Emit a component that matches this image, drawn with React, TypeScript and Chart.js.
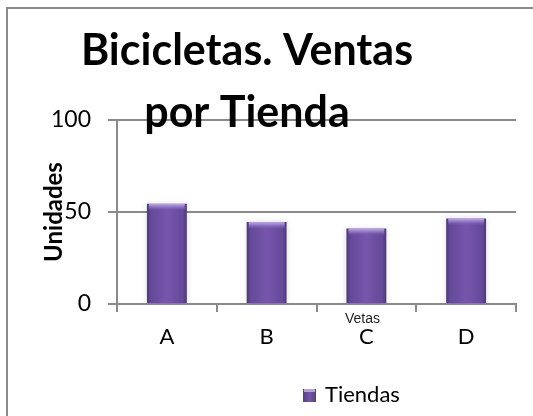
import React, { useEffect, useRef } from "react";
import { Chart, registerables } from "chart.js";

Chart.register(...registerables);

const categories = ["A", "B", "C", "D"];
const seriesLabel = "Tiendas";
const ventas = [54.5, 44.5, 41, 46.5];
const yMin = 0;
const yMax = 100;
const yStep = 50;
const titleLines = ["Bicicletas. Ventas", "por Tienda"];
const yTitle = "Unidades";
const xNote = "Vetas";

const FONT = "Lato, 'Open Sans', sans-serif";

export default function App() {
  const ref = useRef<HTMLCanvasElement | null>(null);

  useEffect(() => {
    const canvas = ref.current;
    if (!canvas) return;

    const overlay = {
      id: "overlay",
      beforeDraw(chart: any) {
        const { ctx } = chart;
        ctx.save();
        ctx.fillStyle = "#ffffff";
        ctx.fillRect(0, 0, chart.width, chart.height);
        ctx.strokeStyle = "#8a8a8a";
        ctx.lineWidth = 2;
        ctx.beginPath();
        ctx.moveTo(7, chart.height);
        ctx.lineTo(7, 8);
        ctx.lineTo(chart.width, 8);
        ctx.stroke();
        ctx.restore();
      },
      beforeDatasetsDraw(chart: any) {
        const { ctx } = chart;
        ctx.save();
        ctx.shadowColor = "rgba(0,0,0,0.13)";
        ctx.shadowBlur = 6;
        ctx.shadowOffsetX = 0;
        ctx.shadowOffsetY = 0;
      },
      afterDatasetsDraw(chart: any) {
        const { ctx } = chart;
        ctx.restore();
        const meta = chart.getDatasetMeta(0);
        ctx.save();
        meta.data.forEach((bar: any) => {
          const { x, y, width } = bar.getProps(["x", "y", "width"], true);
          const left = x - width / 2;
          const g = ctx.createLinearGradient(0, y, 0, y + 7);
          g.addColorStop(0, "rgba(196,176,240,0.95)");
          g.addColorStop(0.45, "rgba(160,135,215,0.7)");
          g.addColorStop(1, "rgba(120,90,175,0)");
          ctx.fillStyle = g;
          ctx.fillRect(left + 2, y, width - 4, 7);
        });
        ctx.restore();
      },
      afterDraw(chart: any) {
        const { ctx, chartArea, scales } = chart;
        ctx.save();
        ctx.fillStyle = "#000";
        ctx.textAlign = "center";
        ctx.textBaseline = "alphabetic";
        ctx.font = `bold 43px ${FONT}`;
        const cx = 247;
        ctx.fillText(titleLines[0], cx, 65);
        ctx.fillText(titleLines[1], cx, 127);

        ctx.font = "14px 'Liberation Sans', Arial, sans-serif";
        ctx.fillStyle = "#222";
        const xs = scales.x;
        const noteX = (xs.left + xs.right) / 2 + 46;
        ctx.fillText(xNote, noteX, chartArea.bottom + 19);

        const bx = 303;
        const by = 389;
        const bs = 13;
        const lg = ctx.createLinearGradient(bx, 0, bx + bs, 0);
        lg.addColorStop(0, "#54407f");
        lg.addColorStop(0.5, "#7656ab");
        lg.addColorStop(1, "#54407f");
        ctx.fillStyle = lg;
        ctx.fillRect(bx, by, bs, bs);
        ctx.fillStyle = "rgba(190,170,235,0.9)";
        ctx.fillRect(bx + 1, by, bs - 2, 3);
        ctx.fillStyle = "#000";
        ctx.textAlign = "left";
        ctx.font = `22px ${FONT}`;
        ctx.fillText(seriesLabel, 325, 402);
        ctx.restore();
      },
    };

    const barFill = (c: any) => {
      const chart = c.chart;
      const xs = chart.scales?.x;
      if (!xs || c.type !== "data" || !chart.chartArea) return "#6e50a2";
      const center = xs.getPixelForValue(c.dataIndex);
      const half = ((xs.right - xs.left) / categories.length) * 0.4 / 2;
      const g = chart.ctx.createLinearGradient(center - half, 0, center + half, 0);
      g.addColorStop(0, "#4e3879");
      g.addColorStop(0.1, "#65499a");
      g.addColorStop(0.5, "#7656ab");
      g.addColorStop(0.9, "#65499a");
      g.addColorStop(1, "#4e3879");
      return g;
    };

    const chart = new Chart(canvas, {
      type: "bar",
      data: {
        labels: categories,
        datasets: [
          {
            label: seriesLabel,
            data: ventas,
            backgroundColor: barFill as any,
            borderWidth: 0,
            barPercentage: 0.4,
            categoryPercentage: 1.0,
          },
        ],
      },
      options: {
        responsive: false,
        animation: false,
        layout: { padding: { left: 0, right: 17, top: 120, bottom: 42 } },
        plugins: {
          title: { display: false },
          tooltip: { enabled: false },
          legend: { display: false },
        },
        scales: {
          x: {
            offset: true,
            grid: {
              display: true,
              offset: true,
              drawOnChartArea: false,
              drawTicks: true,
              tickLength: 8,
              color: "#8a8a8a",
              lineWidth: 2,
            },
            border: { display: true, color: "#8a8a8a", width: 2 },
            ticks: {
              color: "#000",
              font: { family: FONT, size: 22 },
              padding: 12,
            },
            afterFit: (s: any) => {
              s.height = 70;
            },
          },
          y: {
            min: yMin,
            max: yMax,
            ticks: {
              stepSize: yStep,
              color: "#000",
              font: { family: FONT, size: 23 },
              padding: 17,
            },
            grid: {
              color: "#8a8a8a",
              lineWidth: 2,
              tickLength: 9,
            },
            border: { display: true, color: "#8a8a8a", width: 2 },
            title: {
              display: true,
              text: yTitle,
              color: "#000",
              font: { family: FONT, size: 24, weight: "bold" },
              padding: { top: 40, bottom: 0 },
            },
            afterFit: (s: any) => {
              s.width = 117;
            },
          },
        },
      },
      plugins: [overlay],
    });

    return () => chart.destroy();
  }, []);

  return (
    <div style={{ position: "fixed", left: 0, top: 0, width: 533, height: 416, background: "#fff" }}>
      <canvas ref={ref} width={533} height={416} style={{ display: "block" }} />
    </div>
  );
}
